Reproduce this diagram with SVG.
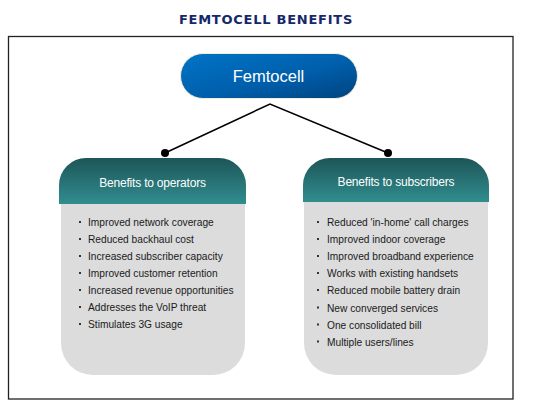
<svg xmlns="http://www.w3.org/2000/svg" width="539" height="406" viewBox="0 0 539 406">
<defs>
<linearGradient id="pillGrad" x1="0" y1="0" x2="1" y2="1">
<stop offset="0" stop-color="#0074c6"/>
<stop offset="0.55" stop-color="#005fac"/>
<stop offset="1" stop-color="#00437f"/>
</linearGradient>
<linearGradient id="headGrad" x1="0" y1="0" x2="0" y2="1">
<stop offset="0" stop-color="#1d5558"/>
<stop offset="1" stop-color="#318d8f"/>
</linearGradient>
</defs>
<style>
.title{font-family:"DejaVu Sans",Verdana,sans-serif;font-weight:bold;font-size:13px;fill:#14286a;letter-spacing:0.75px}
.pilltxt{font-family:"Liberation Sans",Arial,sans-serif;font-size:16.5px;fill:#ffffff}
.head{fill:url(#headGrad)}
.body{fill:#dcdcdc}
.htxt{font-family:"Liberation Sans",Arial,sans-serif;font-size:12px;fill:#ffffff;letter-spacing:-0.2px}
.item{font-family:"Liberation Sans",Arial,sans-serif;font-size:10.2px;fill:#1a1a1a}
.bul{fill:#333333}
.conn{stroke:#000000;stroke-width:1.6;fill:none}
.dot{fill:#000000}
</style>
<rect width="539" height="406" fill="#ffffff"/>
<text class="title" x="266" y="24" text-anchor="middle">FEMTOCELL BENEFITS</text>
<rect x="8.5" y="36.5" width="504.5" height="362.5" fill="none" stroke="#222222" stroke-width="1.3"/>

<g id="connectors">
<polyline class="conn" points="165,153 270,104 388,153"/>
<circle class="dot" cx="165" cy="153" r="4"/>
<circle class="dot" cx="388" cy="153" r="4"/>
</g>

<g id="femtocell">
<rect x="180.5" y="53.5" width="177" height="45" rx="22.5" fill="url(#pillGrad)" stroke="#f3efd6" stroke-width="1"/>
<text class="pilltxt" x="268.5" y="82" text-anchor="middle">Femtocell</text>
</g>

<g id="operators">
<path class="body" d="M61,203 H245 V343 A32,32 0 0 1 213,375 H93 A32,32 0 0 1 61,343 Z"/>
<path class="head" d="M59,204 V185 A27,27 0 0 1 86,158 H219 A27,27 0 0 1 246,185 V204 Z"/>
<text class="htxt" x="152.5" y="187" text-anchor="middle">Benefits to operators</text>
<g class="bul">
<rect x="79" y="221" width="2" height="2"/>
<rect x="79" y="238" width="2" height="2"/>
<rect x="79" y="255" width="2" height="2"/>
<rect x="79" y="272" width="2" height="2"/>
<rect x="79" y="289" width="2" height="2"/>
<rect x="79" y="306" width="2" height="2"/>
<rect x="79" y="323" width="2" height="2"/>
</g>
<text class="item" x="88" y="226">Improved network coverage</text>
<text class="item" x="88" y="243">Reduced backhaul cost</text>
<text class="item" x="88" y="260">Increased subscriber capacity</text>
<text class="item" x="88" y="277">Improved customer retention</text>
<text class="item" x="88" y="294">Increased revenue opportunities</text>
<text class="item" x="88" y="311">Addresses the VoIP threat</text>
<text class="item" x="88" y="328">Stimulates 3G usage</text>
</g>

<g id="subscribers">
<path class="body" d="M304,201 H488 V343 A32,32 0 0 1 456,375 H336 A32,32 0 0 1 304,343 Z"/>
<path class="head" d="M303,202 V185 A27,27 0 0 1 330,158 H462 A27,27 0 0 1 489,185 V202 Z"/>
<text class="htxt" x="396" y="186" text-anchor="middle">Benefits to subscribers</text>
<g class="bul">
<rect x="317" y="221" width="2" height="2"/>
<rect x="317" y="238" width="2" height="2"/>
<rect x="317" y="255" width="2" height="2"/>
<rect x="317" y="272" width="2" height="2"/>
<rect x="317" y="289" width="2" height="2"/>
<rect x="317" y="306.5" width="2" height="2"/>
<rect x="317" y="323.5" width="2" height="2"/>
<rect x="317" y="340.5" width="2" height="2"/>
</g>
<text class="item" x="327" y="226">Reduced 'in-home' call charges</text>
<text class="item" x="327" y="243">Improved indoor coverage</text>
<text class="item" x="327" y="260">Improved broadband experience</text>
<text class="item" x="327" y="277">Works with existing handsets</text>
<text class="item" x="327" y="294">Reduced mobile battery drain</text>
<text class="item" x="327" y="311.5">New converged services</text>
<text class="item" x="327" y="328.5">One consolidated bill</text>
<text class="item" x="327" y="345.5">Multiple users/lines</text>
</g>
</svg>
